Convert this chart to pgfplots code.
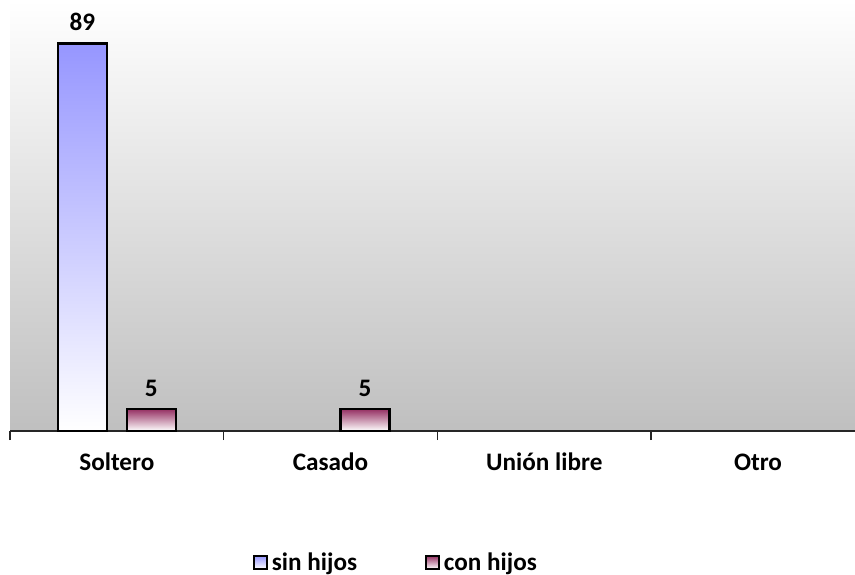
\documentclass[border=0pt]{standalone}
\usepackage{fontspec}
\setmainfont{Carlito}
\usepackage{pgfplots}
\pgfplotsset{compat=1.18}
\definecolor{sinc}{RGB}{150,150,255}
\definecolor{conc}{RGB}{150,50,100}
\pgfplotsset{sq legend/.style={legend image code/.code={%
  \draw[##1, line width=0.9pt] (0pt,-3pt) rectangle (6.5pt,3.5pt);}}}
\begin{document}
\begin{tikzpicture}[font=\fontsize{12.6}{15}\selectfont\bfseries]
\path[use as bounding box] (-5pt,-71.5pt) rectangle (422.5pt,215.5pt);
\begin{axis}[
  at={(0,0)}, anchor=south west,
  scale only axis, width=422.5pt, height=215.5pt,
  xmin=-0.5, xmax=3.454, ymin=0, ymax=99,
  ybar=10pt, bar width=24.5pt,
  axis x line=bottom, axis y line=none,
  axis line style={-, black!85, line width=0.9pt},
  axis background/.style={top color=white, bottom color=black!25},
  xtick={0,1,2,3},
  xticklabels={Soltero, Casado, Unión libre, Otro},
  major tick length=0pt,
  minor xtick={-0.5,0.5,1.5,2.5},
  minor tick length=4.5pt,
  tick align=outside,
  minor tick style={black!85, line width=0.7pt},
  xticklabel style={anchor=base, yshift=-19.5pt},
  ytick=\empty,
  /pgf/number format/assume math mode=true,
  nodes near coords,
  every node near coord/.append style={text=black, yshift=2.5pt},
  legend columns=2,
  legend style={draw=none, fill=none, at={(0.458,-0.306)}, anchor=center,
    /tikz/every even column/.append style={column sep=32pt}},
]
\addplot[draw=black, line width=1.2pt, top color=sinc, bottom color=white, sq legend]
  coordinates {(0,89)};
\addplot[draw=black, line width=1.2pt, top color=conc, bottom color=white, sq legend]
  coordinates {(0,5) (1,5)};
\legend{sin hijos, con hijos}
\end{axis}
\end{tikzpicture}
\end{document}
